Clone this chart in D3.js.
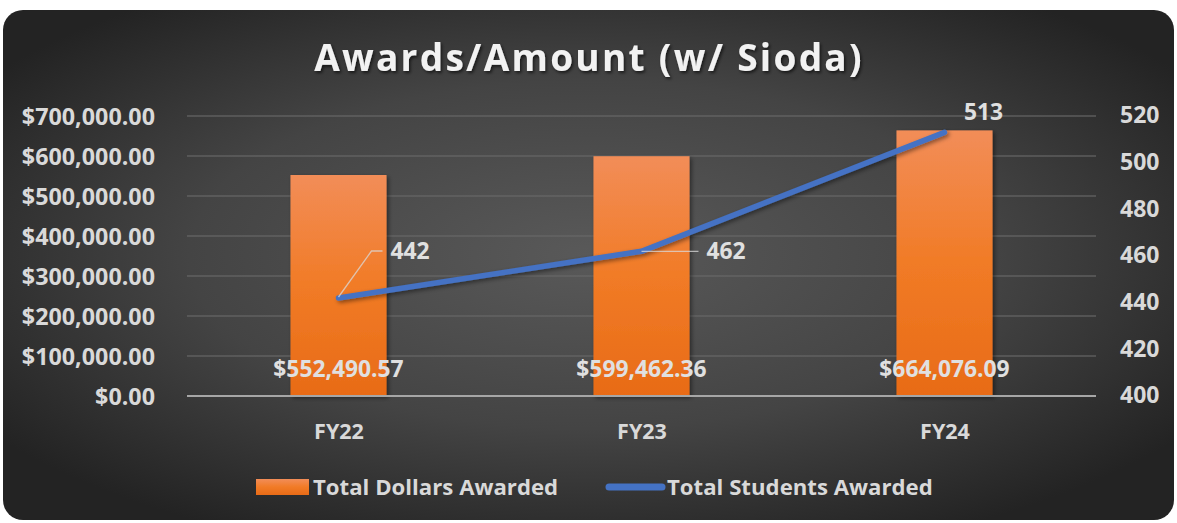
<!DOCTYPE html>
<html>
<head>
<meta charset="utf-8">
<script src="https://cdn.jsdelivr.net/npm/d3@7"></script>
<style>
  html, body { margin: 0; padding: 0; background: #ffffff; }
  svg { display: block; }
  text { font-family: "Open Sans", "DejaVu Sans", sans-serif; font-weight: 700; }
</style>
</head>
<body>
<svg id="chart" width="1177" height="523"></svg>
<script>
// ---- Data ----
const categories = ["FY22", "FY23", "FY24"];
const dollarsAwarded = [552490.57, 599462.36, 664076.09];
const studentsAwarded = [442, 462, 513];
const leftTicks = [0, 100000, 200000, 300000, 400000, 500000, 600000, 700000];
const rightTicks = [400, 420, 440, 460, 480, 500, 520];
const seriesNames = ["Total Dollars Awarded", "Total Students Awarded"];
const titleText = "Awards/Amount (w/ Sioda)";

// ---- Layout ----
const W = 1177, H = 523;
const plot = { left: 187, right: 1096, top: 116, bottom: 396 };

const svg = d3.select("#chart");
const defs = svg.append("defs");

// background gradient
const bg = defs.append("radialGradient").attr("id", "bgGrad")
  .attr("cx", "50%").attr("cy", "48%").attr("r", "62%");
bg.append("stop").attr("offset", "0%").attr("stop-color", "#595959");
bg.append("stop").attr("offset", "55%").attr("stop-color", "#444444");
bg.append("stop").attr("offset", "100%").attr("stop-color", "#232323");

const barGrad = defs.append("linearGradient").attr("id", "barGrad")
  .attr("x1", 0).attr("y1", 0).attr("x2", 0).attr("y2", 1);
barGrad.append("stop").attr("offset", "0%").attr("stop-color", "#F28D58");
barGrad.append("stop").attr("offset", "50%").attr("stop-color", "#F17B26");
barGrad.append("stop").attr("offset", "100%").attr("stop-color", "#E86B17");

const shadow = defs.append("filter").attr("id", "shadow")
  .attr("x", "-20%").attr("y", "-20%").attr("width", "140%").attr("height", "140%");
shadow.append("feDropShadow").attr("dx", 2).attr("dy", 2).attr("stdDeviation", 2)
  .attr("flood-color", "#000").attr("flood-opacity", 0.45);

const tshadow = defs.append("filter").attr("id", "tshadow")
  .attr("x", "-10%").attr("y", "-30%").attr("width", "120%").attr("height", "160%");
tshadow.append("feDropShadow").attr("dx", 1.5).attr("dy", 2).attr("stdDeviation", 1.5)
  .attr("flood-color", "#000").attr("flood-opacity", 0.6);

svg.append("rect").attr("x", 3).attr("y", 10).attr("width", 1171).attr("height", 510)
  .attr("rx", 20).attr("ry", 20).attr("fill", "url(#bgGrad)");

// ---- Scales ----
const x = d3.scalePoint().domain(categories).range([plot.left, plot.right]).padding(0.5);
const step = x.step();
const barW = step * 0.317;
const yL = d3.scaleLinear().domain([0, 700000]).range([plot.bottom, plot.top]);
const yR = d3.scaleLinear().domain([400, 520]).range([plot.bottom, plot.top]);

// gridlines
svg.append("g").selectAll("line").data(leftTicks.filter(d => d > 0)).join("line")
  .attr("x1", plot.left).attr("x2", plot.right)
  .attr("y1", d => yL(d)).attr("y2", d => yL(d))
  .attr("stroke", "#6a6a6a").attr("stroke-opacity", 0.75).attr("stroke-width", 1.3);

// left axis
const fmtDollar = d3.format("$,.2f");
const leftAxis = d3.axisLeft(yL).tickValues(leftTicks).tickFormat(fmtDollar).tickSize(0).tickPadding(0);
const gL = svg.append("g").attr("transform", `translate(155,0)`).call(leftAxis);
gL.select(".domain").remove();
gL.selectAll("text").attr("fill", "#d9d9d9").style("font-size", "23.3px").attr("dy", "0.35em");

// right axis
const rightAxis = d3.axisRight(yR).tickValues(rightTicks).tickSize(0).tickPadding(0);
const gR = svg.append("g").attr("transform", `translate(1120,0)`).call(rightAxis);
gR.select(".domain").remove();
gR.selectAll("text").attr("fill", "#d9d9d9").style("font-size", "23px").attr("dy", "0.3em");

// bars
svg.append("g").selectAll("rect").data(dollarsAwarded).join("rect")
  .attr("x", (d, i) => x(categories[i]) - barW / 2)
  .attr("width", barW)
  .attr("y", d => yL(d))
  .attr("height", d => yL(0) - yL(d))
  .attr("fill", "url(#barGrad)")
  .attr("filter", "url(#shadow)");

// x axis line
svg.append("line").attr("x1", plot.left).attr("x2", plot.right)
  .attr("y1", yL(0)).attr("y2", yL(0))
  .attr("stroke", "#a6a6a6").attr("stroke-width", 2);

// x axis labels
const bottomAxis = d3.axisBottom(x).tickSize(0).tickPadding(0);
const gB = svg.append("g").attr("transform", `translate(0,439)`).call(bottomAxis);
gB.select(".domain").remove();
gB.selectAll("text").attr("fill", "#d9d9d9").style("font-size", "21.5px").attr("dy", "0");

// bar labels
svg.append("g").selectAll("text").data(dollarsAwarded).join("text")
  .attr("x", (d, i) => x(categories[i]))
  .attr("y", 377)
  .attr("text-anchor", "middle")
  .attr("fill", "#e0e0e0")
  .style("font-size", "22.8px")
  .text(d => fmtDollar(d));

// line
const line = d3.line().x((d, i) => x(categories[i])).y(d => yR(d));
svg.append("path").datum(studentsAwarded)
  .attr("d", line)
  .attr("fill", "none")
  .attr("stroke", "#4472C4")
  .attr("stroke-width", 5.5)
  .attr("stroke-linecap", "round")
  .attr("stroke-linejoin", "round")
  .attr("filter", "url(#shadow)");

// line labels with leader lines
const px = i => x(categories[i]);
const py = i => yR(studentsAwarded[i]);
const leader = svg.append("g").attr("fill", "none").attr("stroke", "#d9d9d9")
  .attr("stroke-opacity", 0.75).attr("stroke-width", 1.3);
leader.append("path").attr("d", `M${px(0)},${py(0) - 1} L${px(0) + 33},${py(0) - 47} L${px(0) + 44},${py(0) - 47}`);
leader.append("path").attr("d", `M${px(1)},${py(1)} L${px(1) + 57},${py(1)}`);

const lblG = svg.append("g").attr("fill", "#e0e0e0").style("font-size", "22.8px");
lblG.append("text").attr("x", px(0) + 52).attr("y", py(0) - 39).text(studentsAwarded[0]);
lblG.append("text").attr("x", px(1) + 65).attr("y", py(1) + 8).text(studentsAwarded[1]);
lblG.append("text").attr("x", px(2) + 39).attr("y", py(2) - 12).attr("text-anchor", "middle").text(studentsAwarded[2]);

// title
svg.append("text").attr("x", 589).attr("y", 71).attr("text-anchor", "middle")
  .attr("fill", "#f2f2f2").style("font-size", "37px").style("letter-spacing", "2.3px")
  .attr("filter", "url(#tshadow)")
  .text(titleText);

// legend
const lg = svg.append("g");
lg.append("rect").attr("x", 256).attr("y", 479).attr("width", 53).attr("height", 16)
  .attr("fill", "url(#barGrad)");
lg.append("text").attr("x", 313).attr("y", 495).attr("fill", "#d9d9d9")
  .style("font-size", "22.2px").text(seriesNames[0]);
lg.append("line").attr("x1", 609).attr("x2", 662).attr("y1", 487).attr("y2", 487)
  .attr("stroke", "#4472C4").attr("stroke-width", 7).attr("stroke-linecap", "round");
lg.append("text").attr("x", 667).attr("y", 495).attr("fill", "#d9d9d9")
  .style("font-size", "22.2px").text(seriesNames[1]);
</script>
</body>
</html>
